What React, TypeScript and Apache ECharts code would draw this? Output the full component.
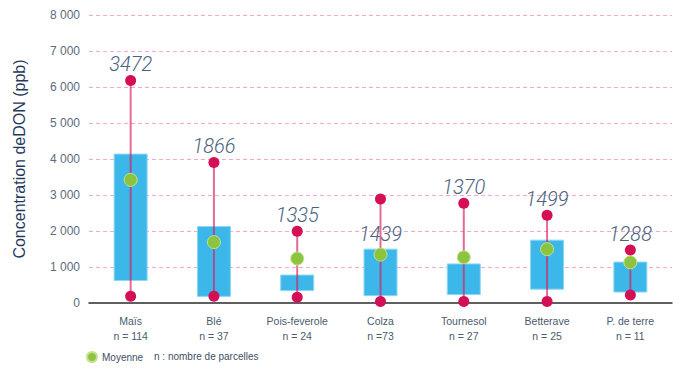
import React, { useEffect, useRef } from "react";
import * as echarts from "echarts";

const categories = ["Maïs", "Blé", "Pois-feverole", "Colza", "Tournesol", "Betterave", "P. de terre"];
const nLabels = ["n = 114", "n = 37", "n = 24", "n =73", "n = 27", "n = 25", "n = 11"];
const boxLow = [610, 170, 330, 190, 220, 370, 290];
const boxHigh = [4150, 2140, 790, 1510, 1100, 1760, 1150];
const minValues = [190, 190, 160, 40, 40, 40, 220];
const maxValues = [6180, 3900, 1990, 2890, 2770, 2440, 1470];
const meanValues = [3420, 1690, 1235, 1345, 1270, 1495, 1130];
const topLabels = [3472, 1866, 1335, 1439, 1370, 1499, 1288];
const labelOnBox = [false, false, false, true, false, false, false];
const yTicks = [0, 1000, 2000, 3000, 4000, 5000, 6000, 7000, 8000];

const fmt = (v: number) => String(v).replace(/\B(?=(\d{3})+(?!\d))/g, " ");

export default function App() {
  const ref = useRef<HTMLDivElement>(null);
  useEffect(() => {
    const chart = echarts.init(ref.current!, undefined, { renderer: "svg" });
    const font = "'Liberation Sans', Arial, sans-serif";
    const labelStyle = {
      show: true,
      position: "top" as const,
      distance: 1,
      fontFamily: "Roboto, 'Liberation Sans', sans-serif",
      fontStyle: "italic" as const,
      fontWeight: 300,
      fontSize: 20,
      color: "#4a6180",
      formatter: (p: any) => String(topLabels[p.dataIndex]),
    };
    chart.setOption({
      animation: false,
      textStyle: { fontFamily: font },
      grid: { left: 89, right: 28, top: 15, bottom: 74 },
      legend: {
        data: [{ name: "Moyenne", icon: "circle" }],
        left: 86,
        top: 351,
        padding: 0,
        itemWidth: 10,
        itemHeight: 10,
        textStyle: { fontSize: 10, color: "#3d4f63", fontFamily: font },
      },
      graphic: [
        {
          type: "text",
          left: 154,
          top: 351,
          style: { text: "n : nombre de parcelles", fontSize: 10, fill: "#3d4f63", fontFamily: font },
        },
      ],
      xAxis: {
        type: "category",
        data: categories,
        axisLine: { lineStyle: { color: "#2b2b2b", width: 1.5 } },
        axisTick: { show: false },
        splitLine: { show: false },
        axisLabel: {
          interval: 0,
          margin: 10,
          fontSize: 10.5,
          lineHeight: 15,
          color: "#4a5b6e",
          formatter: (v: string, i: number) => `${v}\n${nLabels[i]}`,
        },
      },
      yAxis: {
        type: "value",
        min: 0,
        max: 8000,
        interval: 1000,
        name: "Concentration deDON (ppb)",
        nameLocation: "middle",
        nameGap: 62,
        nameTextStyle: { fontSize: 16, color: "#1f3a5c", fontFamily: font },
        axisLine: { show: false },
        axisTick: { show: false },
        axisLabel: {
          margin: 9,
          fontSize: 12,
          color: "#5d6b7c",
          formatter: (v: number) => (yTicks.includes(v) ? fmt(v) : ""),
        },
        splitLine: { show: false },
      },
      series: [
        {
          type: "bar",
          stack: "box",
          barWidth: 34,
          data: boxLow,
          itemStyle: { color: "transparent" },
          silent: true,
          z: 1,
          markLine: {
            silent: true,
            symbol: "none",
            label: { show: false },
            lineStyle: { color: "#f5a9c1", type: [4, 3], width: 1 },
            data: yTicks.filter((v) => v > 0).map((v) => ({ yAxis: v })),
            z: 0,
          },
        },
        {
          type: "bar",
          stack: "box",
          barWidth: 34,
          data: boxHigh.map((h, i) => h - boxLow[i]),
          itemStyle: { color: "#3bb8e9", borderColor: "#8fd6f3", borderWidth: 1 },
          z: 2,
          label: {
            ...labelStyle,
            position: "top",
            distance: 5,
            show: true,
            formatter: (p: any) => (labelOnBox[p.dataIndex] ? String(topLabels[p.dataIndex]) : ""),
          },
        },
        {
          type: "custom",
          renderItem: (params: any, api: any) => {
            const x = api.value(0);
            const a = api.coord([x, api.value(1)]);
            const b = api.coord([x, api.value(2)]);
            return {
              type: "line",
              shape: { x1: a[0], y1: a[1], x2: b[0], y2: b[1] },
              style: { stroke: "#d81b5a", lineWidth: 2, opacity: 0.65 },
            };
          },
          data: categories.map((_, i) => [i, minValues[i], maxValues[i]]),
          z: 3,
        },
        {
          type: "scatter",
          data: minValues,
          symbolSize: 11,
          itemStyle: { color: "#d40f55", opacity: 1 },
          z: 4,
        },
        {
          type: "scatter",
          data: maxValues,
          symbolSize: 11,
          itemStyle: { color: "#d40f55", opacity: 1 },
          label: {
            ...labelStyle,
            formatter: (p: any) => (labelOnBox[p.dataIndex] ? "" : String(topLabels[p.dataIndex])),
          },
          z: 4,
        },
        {
          name: "Moyenne",
          type: "scatter",
          data: meanValues,
          symbolSize: 13,
          itemStyle: { color: "#8cc43f", borderColor: "#c3e28f", borderWidth: 1, opacity: 1 },
          z: 5,
        },
      ],
    });
    return () => chart.dispose();
  }, []);
  return <div ref={ref} style={{ position: "absolute", left: 0, top: 0, width: 700, height: 377 }} />;
}
